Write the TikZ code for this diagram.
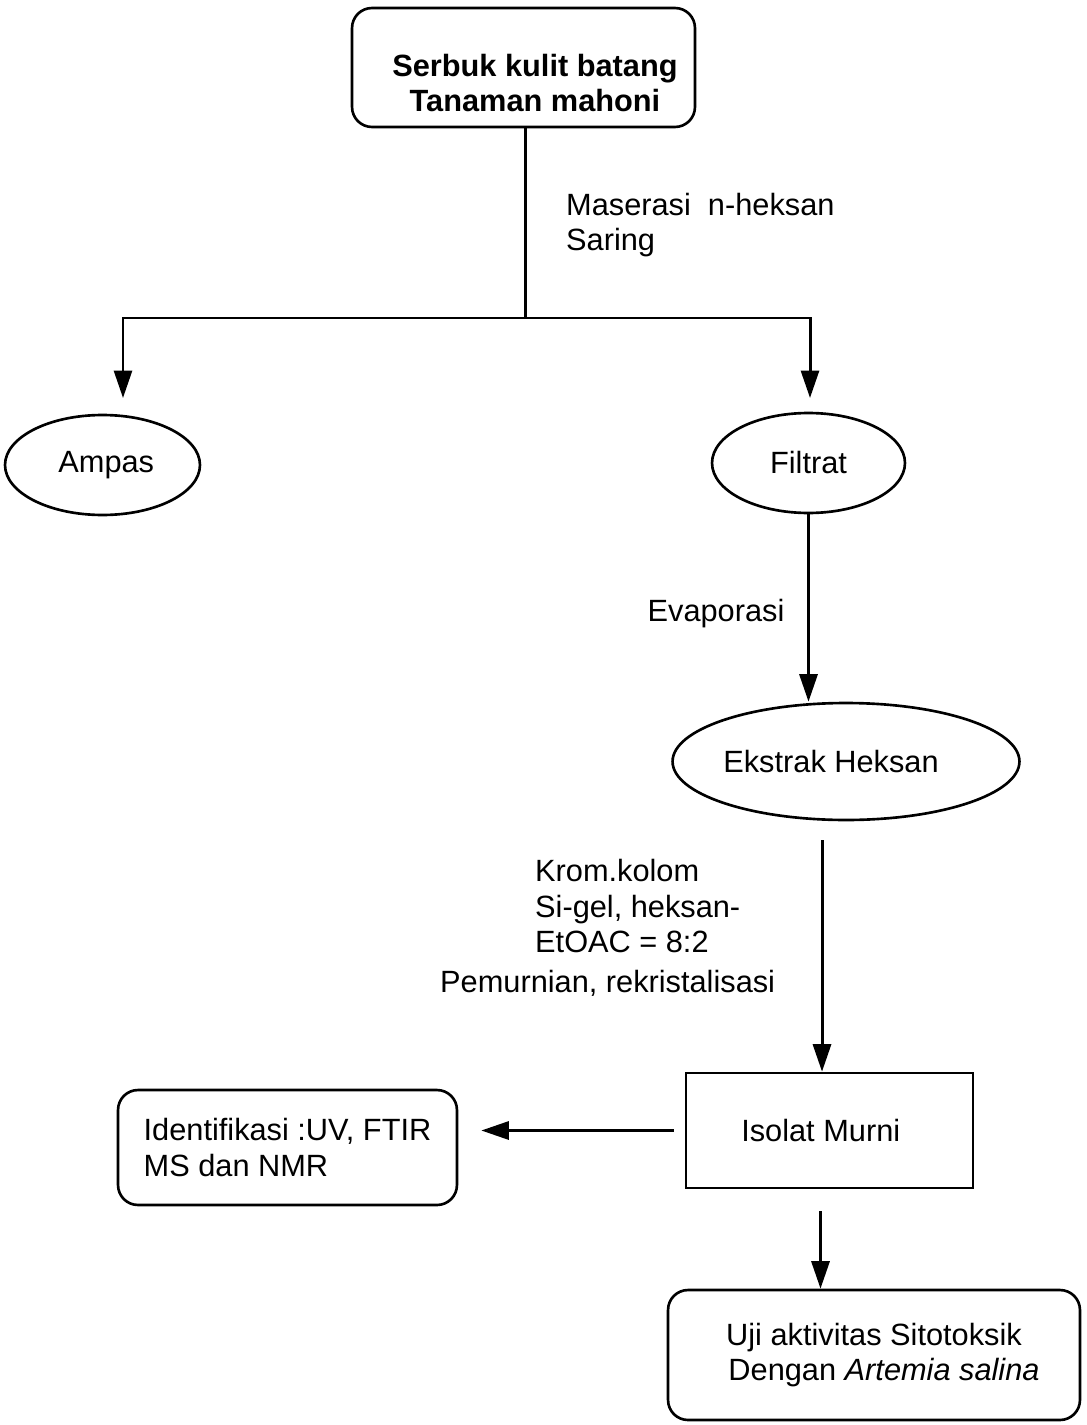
\documentclass[tikz,border=0pt]{standalone}
\usepackage{fontspec}
\setmainfont{Liberation Sans}
\usetikzlibrary{shapes.geometric}
\usetikzlibrary{arrows.meta}
\tikzset{
  rbox/.style={draw, line width=1.5pt, rounded corners=0.4cm, inner sep=0pt},
  sbox/.style={draw, line width=1.5pt, inner sep=0pt},
  oval/.style={draw, ellipse, line width=1.5pt, inner sep=0pt},
  link/.style={line width=1.7pt},
  arr/.style={line width=1.7pt, -{Triangle[length=0.55cm,width=0.36cm]}},
}

\begin{document}
\begin{tikzpicture}[x=0.02cm, y=-0.02cm, font=\fontsize{17.5}{20}\selectfont]
        \useasboundingbox (0,0) rectangle (1087,1425);
        % boxes
        \node[rbox, minimum width=6.86cm, minimum height=2.38cm] (serbuk) at (523.5,67.5) {};
        \node[align=center] (serbuktxt) at (535,83) {\textbf{Serbuk kulit batang}\\\textbf{Tanaman mahoni}};
        \node[oval, minimum width=3.9cm, minimum height=2cm] (ampas) at (102.5,465) {\hspace*{0.15cm}Ampas};
        \node[oval, minimum width=3.86cm, minimum height=2cm] (filtrat) at (808.5,463) {Filtrat};
        \node[oval, minimum width=6.16cm, minimum height=2.34cm] (ekstrak) at (846,761.5) {Ekstrak Heksan\hspace*{0.6cm}};
        \node[sbox, minimum width=5.74cm, minimum height=2.3cm] (isolat) at (829.5,1130.5) {Isolat Murni\hspace*{0.35cm}};
        \node[rbox, minimum width=6.78cm, minimum height=2.3cm, align=left] (ident) at (287.5,1147.5) {Identifikasi :UV, FTIR\\MS dan NMR};
        \node[rbox, minimum width=8.24cm, minimum height=2.6cm, align=center] (uji) at (874,1355) {Uji aktivitas Sitotoksik\\\hspace*{0.4cm}Dengan \textit{Artemia salina}};

        % labels
        \node[anchor=west, align=left] (maserasi) at (560,225) {Maserasi\ \ n-heksan\\Saring};
        \node (evaporasi) at (716,614) {Evaporasi};
        \node[anchor=west, align=left] (krom) at (434,928) {\hspace*{1.9cm}Krom.kolom\\\hspace*{1.9cm}Si-gel, heksan-\\\hspace*{1.9cm}EtOAC = 8:2\\[0.1cm]Pemurnian, rekristalisasi};

        % connectors
        \coordinate (split) at (525,318);
        \coordinate (ampasin) at (123,398);
        \coordinate (filtratin) at (810,398);
        \coordinate (kromtop) at (822,840);
        \draw[link] (serbuk.south -| split) -- (split);
        \draw[arr] (split) -| (ampasin);
        \draw[arr] (split) -| (filtratin);
        \draw[arr] (filtrat.south) -- (filtrat.south |- ekstrak.north);
        \draw[arr] (kromtop) -- (kromtop |- isolat.north);
        \draw[arr, shorten <=0.22cm, shorten >=0.46cm] (isolat.west) -- (isolat.west -| ident.east);
        \draw[arr, shorten <=0.44cm] ([xshift=-0.18cm]isolat.south) -- ([xshift=-0.18cm]isolat.south |- uji.north);
\end{tikzpicture}
\end{document}
